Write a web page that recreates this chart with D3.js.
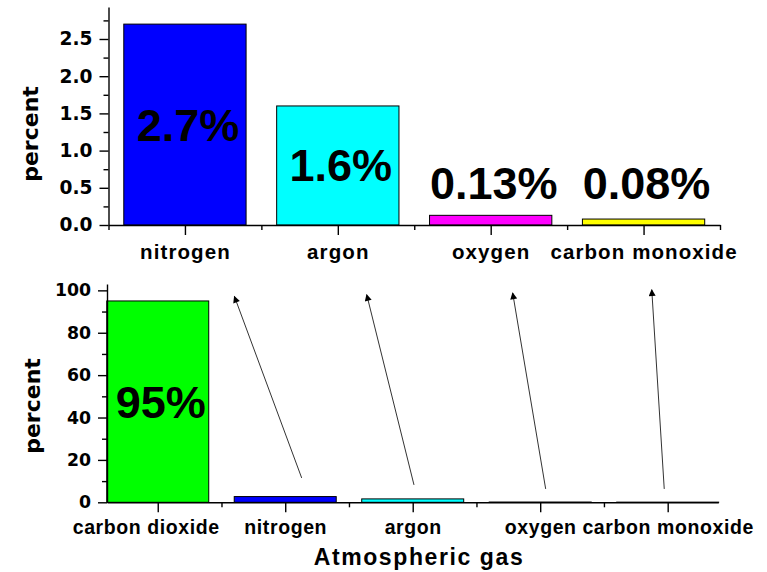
<!DOCTYPE html>
<html>
<head>
<meta charset="utf-8">
<script src="https://cdn.jsdelivr.net/npm/d3@7"></script>
<style>
  html, body { margin: 0; padding: 0; background: #fff; }
  svg { display: block; }
  .tick text { font-weight: bold; fill: #000; }
</style>
</head>
<body>
<svg id="chart" width="767" height="572"></svg>
<script>
// ---- data ----
const topGases = ["nitrogen", "argon", "oxygen", "carbon monoxide"];
const topValues = [2.7, 1.6, 0.13, 0.08];
const topLabels = ["2.7%", "1.6%", "0.13%", "0.08%"];
const topColors = ["#0000ff", "#00ffff", "#ff00ff", "#ffff00"];

const bottomGases = ["carbon dioxide", "nitrogen", "argon", "oxygen", "carbon monoxide"];
const bottomValues = [95, 2.7, 1.6, 0.13, 0.08];
const bottomLabels = ["95%", "", "", "", ""];
const bottomColors = ["#00ff00", "#0000ff", "#00ffff", "#ff00ff", "#ffff00"];

const topYTicks = [0, 0.5, 1.0, 1.5, 2.0, 2.5];
const topYMinor = [0.25, 0.75, 1.25, 1.75, 2.25, 2.75];
const bottomYTicks = [0, 20, 40, 60, 80, 100];
const bottomYMinor = [10, 30, 50, 70, 90];

// annotation arrows in data units: [category index, percent]
const arrowFrom = [[1.129, 11.5], [2.010, 8.2], [3.043, 6.3], [3.973, 6.3]];
const arrowTo = [[0.601, 97.2], [1.639, 98.0], [2.784, 98.8], [3.875, 100.3]];

const yTitle = "percent";
const xTitle = "Atmospheric gas";

// ---- drawing ----
const svg = d3.select("#chart");
const defs = svg.append("defs");
defs.append("marker")
  .attr("id", "arrowhead")
  .attr("viewBox", "0 0 10 10")
  .attr("refX", 9).attr("refY", 5)
  .attr("markerUnits", "userSpaceOnUse")
  .attr("markerWidth", 10).attr("markerHeight", 7)
  .attr("orient", "auto")
  .append("path").attr("d", "M0,0 L10,5 L0,10 z").attr("fill", "#000");

const ARIAL = '"Liberation Sans", Arial, sans-serif';
const DEJAVU = '"DejaVu Sans", sans-serif';

function drawPanel(opts) {
  const g = svg.append("g");
  const x = d3.scaleLinear().domain(opts.xDomain).range(opts.xRange);
  const y = d3.scaleLinear().domain(opts.yDomain).range(opts.yRange);
  const step = x(1) - x(0);
  const barW = step * 0.8;

  // bars
  g.selectAll("rect.bar").data(opts.values).enter().append("rect")
    .attr("class", "bar")
    .attr("x", (d, i) => x(i) - barW / 2)
    .attr("width", barW)
    .attr("y", d => y(d))
    .attr("height", d => y(0) - y(d))
    .attr("fill", (d, i) => opts.colors[i])
    .attr("stroke", "#000")
    .attr("stroke-width", 1);

  // x axis
  const xAxis = d3.axisBottom(x)
    .tickValues(d3.range(opts.values.length))
    .tickFormat(i => opts.cats[i])
    .tickSize(10).tickSizeOuter(0).tickPadding(opts.catPad);
  const gx = g.append("g").attr("transform", `translate(0,${y(0)})`).call(xAxis);
  gx.select(".domain").attr("stroke-width", 1.4);
  gx.selectAll(".tick line").attr("stroke-width", 1.4);
  gx.selectAll(".tick text")
    .style("font-family", ARIAL)
    .style("font-size", opts.catSize + "px")
    .style("letter-spacing", opts.catSpacing + "px")
    .attr("dx", (d, i) => opts.catShift(i));
  const xMinor = d3.axisBottom(x).tickValues(opts.xMinor).tickSize(5).tickFormat("");
  const gxm = g.append("g").attr("transform", `translate(0,${y(0)})`).call(xMinor);
  gxm.select(".domain").remove();
  gxm.selectAll(".tick line").attr("stroke-width", 1.4);

  // y axis
  const yAxis = d3.axisLeft(y).tickValues(opts.yTicks).tickFormat(opts.yFormat)
    .tickSize(9).tickSizeOuter(0).tickPadding(7);
  const gy = g.append("g").attr("transform", `translate(${opts.xRange[0]},0)`).call(yAxis);
  gy.select(".domain").attr("stroke-width", 1.4);
  gy.selectAll(".tick line").attr("stroke-width", 1.4);
  gy.selectAll(".tick text")
    .style("font-family", DEJAVU)
    .style("font-size", opts.tickSize + "px");
  const yMinor = d3.axisLeft(y).tickValues(opts.yMinor).tickSize(5).tickFormat("");
  const gym = g.append("g").attr("transform", `translate(${opts.xRange[0]},0)`).call(yMinor);
  gym.select(".domain").remove();
  gym.selectAll(".tick line").attr("stroke-width", 1.4);

  // value labels
  g.selectAll("text.val").data(opts.values).enter().append("text")
    .attr("class", "val")
    .attr("x", (d, i) => x(i) + 3)
    .attr("y", d => y(Math.max(d / 2, opts.minLabelPos)) + 16)
    .attr("text-anchor", "middle")
    .style("font-family", ARIAL)
    .style("font-weight", "bold")
    .style("font-size", "45px")
    .attr("fill", "#000")
    .text((d, i) => opts.labels[i]);

  // y title
  g.append("text")
    .attr("transform", `translate(${opts.yTitlePos[0]},${opts.yTitlePos[1]}) rotate(-90)`)
    .attr("text-anchor", "middle")
    .style("font-family", DEJAVU)
    .style("font-weight", "bold")
    .style("font-size", "22px")
    .text(yTitle);

  return { g, x, y };
}

const topPanel = drawPanel({
  values: topValues, labels: topLabels, colors: topColors, cats: topGases,
  xDomain: [-0.5, 3.5], xRange: [108.5, 720],
  yDomain: [0, 2.93], yRange: [225, 7],
  xMinor: [-0.5, 0.5, 1.5, 2.5, 3.5],
  yTicks: topYTicks, yMinor: topYMinor, yFormat: d3.format(".1f"),
  tickSize: 18.6, catSize: 20.5, catSpacing: 1.1, catPad: 9, catShift: () => 0,
  minLabelPos: 0.565,
  yTitlePos: [38, 134]
});

const bottomPanel = drawPanel({
  values: bottomValues, labels: bottomLabels, colors: bottomColors, cats: bottomGases,
  xDomain: [-0.398, 4.397], xRange: [107, 718.3],
  yDomain: [0, 103], yRange: [502.3, 284],
  xMinor: [0.5, 1.5, 2.5, 3.5],
  yTicks: bottomYTicks, yMinor: bottomYMinor, yFormat: d3.format("d"),
  tickSize: 17.3, catSize: 19.5, catSpacing: 0.6, catPad: 7.5, catShift: i => (i === 0 ? -12 : 0),
  minLabelPos: 0,
  yTitlePos: [40, 406]
});

// arrows
bottomPanel.g.selectAll("line.arrow").data(arrowFrom).enter().append("line")
  .attr("class", "arrow")
  .attr("x1", d => bottomPanel.x(d[0])).attr("y1", d => bottomPanel.y(d[1]))
  .attr("x2", (d, i) => bottomPanel.x(arrowTo[i][0])).attr("y2", (d, i) => bottomPanel.y(arrowTo[i][1]))
  .attr("stroke", "#333").attr("stroke-width", 1)
  .attr("marker-end", "url(#arrowhead)");

// x title
svg.append("text")
  .attr("x", 419).attr("y", 565)
  .attr("text-anchor", "middle")
  .style("font-family", ARIAL)
  .style("font-weight", "bold")
  .style("font-size", "23px")
  .style("letter-spacing", "1.6px")
  .text(xTitle);
</script>
</body>
</html>
